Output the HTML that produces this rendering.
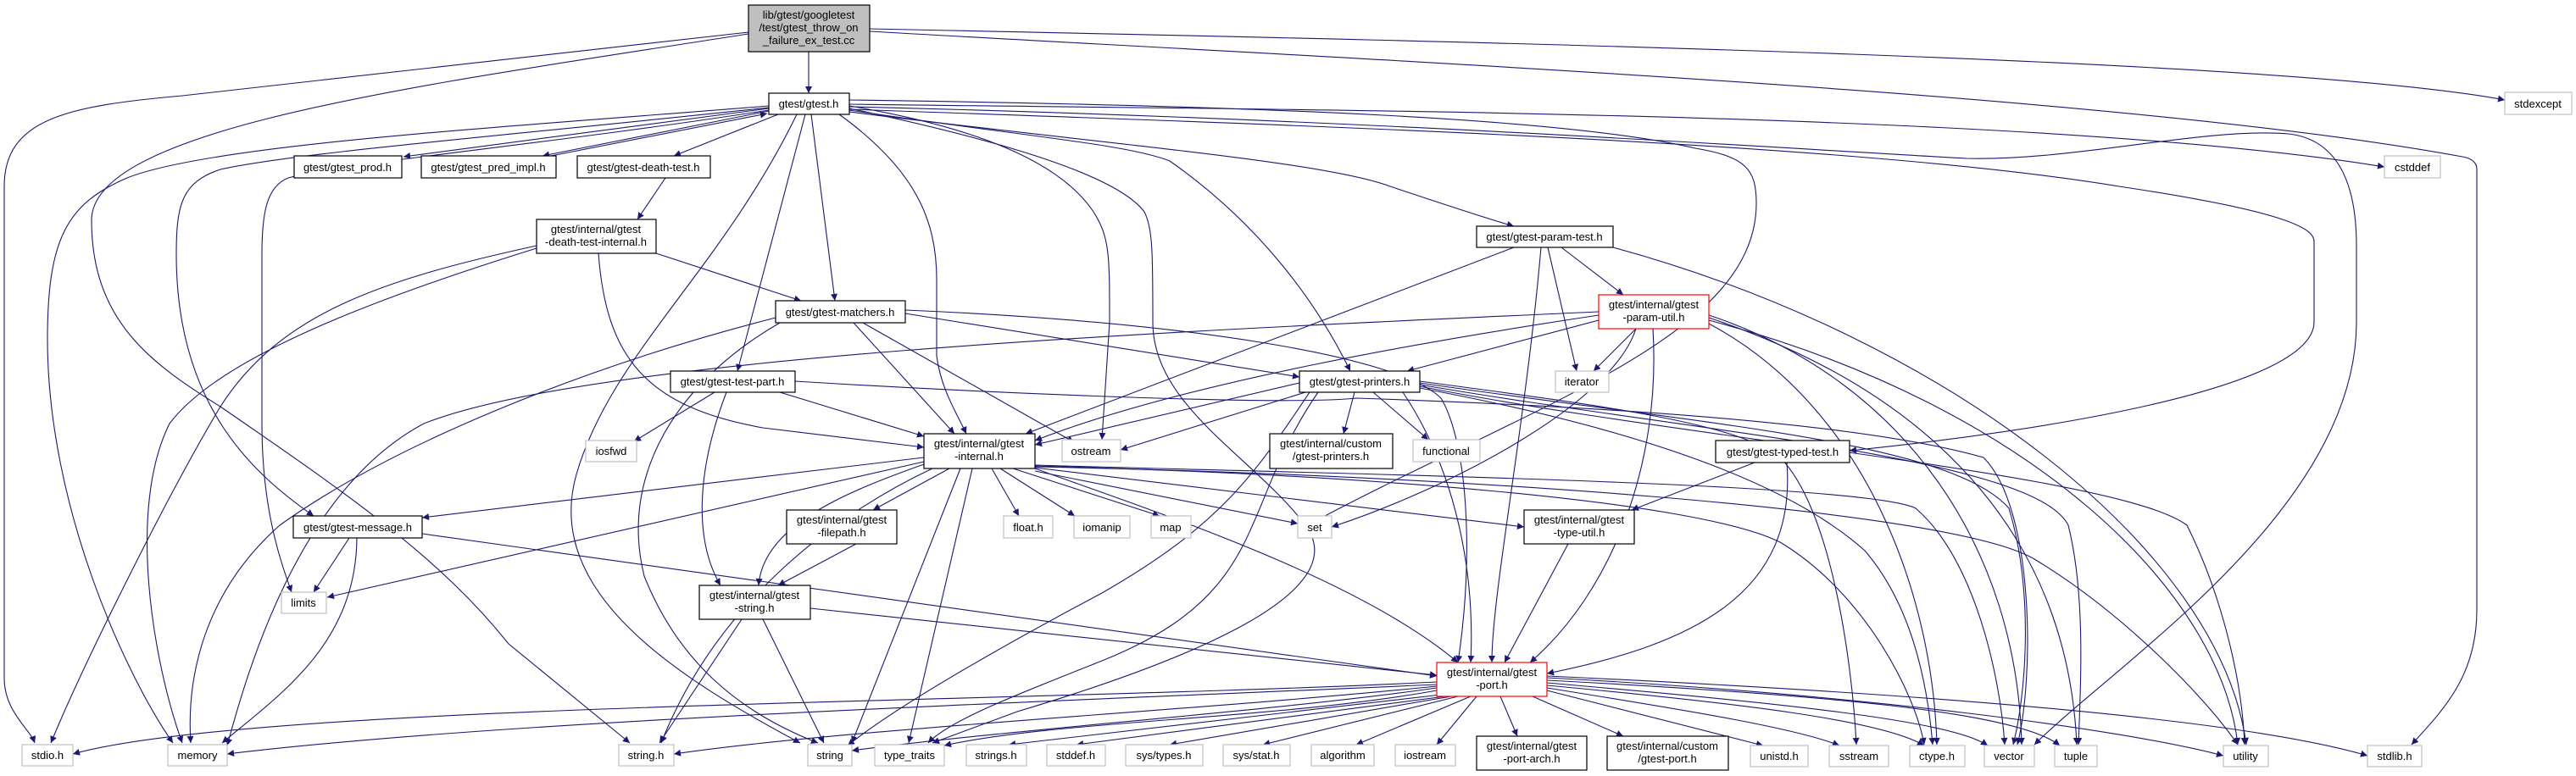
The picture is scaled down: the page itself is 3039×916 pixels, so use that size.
<!DOCTYPE html>
<html><head><meta charset="utf-8"><style>
html,body{margin:0;padding:0;background:#fff;}
svg{display:block;}
text{font-family:"Liberation Sans",Arial,sans-serif;font-size:13px;fill:#000;text-anchor:middle;}
.e{fill:none;stroke:#191970;stroke-width:1.1;marker-end:url(#a);}
.n{fill:#fff;stroke:#000;stroke-width:1.2;}
.g{fill:#fff;stroke:#c0c0c0;stroke-width:1.2;}
.r{fill:#fff;stroke:#ff0000;stroke-width:1.2;}
</style></head><body>
<svg width="3039" height="916" viewBox="0 0 3039 916" xmlns="http://www.w3.org/2000/svg">
<defs><marker id="a" viewBox="0 0 10 10" refX="10" refY="5" markerWidth="11" markerHeight="8" markerUnits="userSpaceOnUse" orient="auto"><path d="M0,0L10,5L0,10z" fill="#191970"/></marker></defs>
<g>
<!-- root edges -->
<path class="e" d="M954,61 L954,110"/>
<path class="e" d="M883,38 C600,70 320,100 215,113 C80,125 5,140 5,220 L5,800 C5,840 35,860 41,877"/>
<path class="e" d="M883,40 C500,100 108,150 108,260 C108,380 180,430 260,480 C420,590 520,660 600,760 L743,877"/>
<path class="e" d="M1026,34 C1800,50 2700,70 2955,118"/>
<path class="e" d="M1026,37 C1600,70 2500,110 2905,185 Q2922,188 2922,200 L2922,720 C2922,800 2880,840 2845,879"/>
<!-- gtest.h edges -->
<path class="e" d="M907,128 L476,185"/>
<path class="e" d="M907,131 L640,184"/>
<path class="e" d="M650,184 L905,134"/>
<path class="e" d="M918,135 L795,184"/>
<path class="e" d="M957,135 L985,355"/>
<path class="e" d="M950,135 L870,438"/>
<path class="e" d="M907,125 C600,150 250,170 150,210 C80,240 56,280 56,400 C56,600 150,800 204,877"/>
<path class="e" d="M907,127 C600,160 350,180 260,200 C215,215 208,240 208,300 C208,480 300,560 370,609"/>
<path class="e" d="M907,130 C650,170 420,190 340,210 C315,220 309,250 309,300 L309,500 C309,600 330,660 344,699"/>
<path class="e" d="M940,135 C850,320 720,420 680,560 C640,700 800,800 944,877"/>
<path class="e" d="M990,135 C1080,200 1105,260 1105,330 L1105,420 C1110,460 1130,490 1140,512"/>
<path class="e" d="M1002,125 C1150,150 1250,190 1290,250 C1309,280 1309,300 1309,380 L1300,519"/>
<path class="e" d="M1002,128 C1200,170 1320,210 1350,250 C1360,270 1360,300 1360,380 C1360,480 1480,540 1540,620 C1600,700 1400,780 1200,840 L1100,877"/>
<path class="e" d="M1002,130 C1200,160 1330,170 1380,190 C1480,260 1550,350 1593,438"/>
<path class="e" d="M1002,132 C1300,170 1560,190 1640,220 C1700,240 1760,260 1786,267"/>
<path class="e" d="M1002,123 C1500,130 2400,130 2813,197"/>
<path class="e" d="M1002,126 C1600,140 2100,175 2320,187 C2450,190 2600,150 2700,158 C2760,165 2780,220 2780,290 L2780,380 C2780,600 2500,780 2400,879"/>
<path class="e" d="M1002,129 C1600,150 2200,170 2500,220 C2700,250 2730,270 2730,285 L2730,380 C2730,460 2400,510 2182,532"/>
<path class="e" d="M1002,118 C1500,125 1850,140 2000,175 C2060,185 2072,200 2072,240 C2072,400 1800,480 1533,625"/>
<!-- death-test -->
<path class="e" d="M785,210 L752,259"/>
<path class="e" d="M774,299 L945,355"/>
<path class="e" d="M706,299 C715,420 760,480 900,505 L1090,528"/>
<path class="e" d="M633,290 C450,330 330,370 260,480 C200,580 100,780 60,877"/>
<path class="e" d="M633,293 C450,350 260,420 200,500 C150,600 180,780 215,877"/>
<!-- matchers -->
<path class="e" d="M1007,381 L1126,512"/>
<path class="e" d="M1018,381 L1267,522"/>
<path class="e" d="M1068,370 L1533,445"/>
<path class="e" d="M1068,366 C1400,380 1650,420 1700,470 C1730,520 1740,650 1720,782"/>
<path class="e" d="M915,375 C700,430 470,520 330,620 C240,700 220,800 225,877"/>
<path class="e" d="M920,381 C800,450 730,560 760,680 C800,780 870,840 965,877"/>
<!-- test-part -->
<path class="e" d="M843,463 L748,521"/>
<path class="e" d="M920,463 L1090,515"/>
<path class="e" d="M857,463 C820,560 820,640 850,691"/>
<path class="e" d="M938,450 C1100,460 1500,480 1600,470 C1900,480 2200,500 2340,540 C2400,600 2400,800 2380,879"/>
<!-- message -->
<path class="e" d="M412,635 L370,699"/>
<path class="e" d="M421,635 C420,760 330,820 262,877"/>
<path class="e" d="M498,630 L1695,798"/>
<!-- gtest-internal -->
<path class="e" d="M1090,540 L498,611"/>
<path class="e" d="M1090,545 L386,705"/>
<path class="e" d="M1120,553 L1030,602"/>
<path class="e" d="M1170,553 L1202,609"/>
<path class="e" d="M1180,553 L1268,609"/>
<path class="e" d="M1195,553 L1368,609"/>
<path class="e" d="M1221,556 L1531,618"/>
<path class="e" d="M1221,552 L1798,622"/>
<path class="e" d="M1221,553 C1350,600 1600,680 1720,782"/>
<path class="e" d="M1090,548 C1000,580 900,620 895,691"/>
<path class="e" d="M1100,553 C1000,600 850,700 780,877"/>
<path class="e" d="M1133,553 L1005,877"/>
<path class="e" d="M1147,553 L1072,877"/>
<path class="e" d="M1221,549 C1600,560 2200,570 2260,600 C2330,660 2360,800 2365,879"/>
<path class="e" d="M1221,550 C1600,560 2000,590 2100,640 C2200,700 2260,820 2270,879"/>
<path class="e" d="M1221,551 C1700,560 2300,600 2400,660 C2500,720 2600,820 2640,879"/>
<!-- param-test -->
<path class="e" d="M1786,292 L1210,512"/>
<path class="e" d="M1826,292 L1860,438"/>
<path class="e" d="M1842,292 L1915,348"/>
<path class="e" d="M1818,292 C1800,500 1760,700 1760,782"/>
<path class="e" d="M1903,292 C2300,400 2620,650 2650,879"/>
<!-- param-util -->
<path class="e" d="M1886,378 L1660,438"/>
<path class="e" d="M1886,372 C1700,400 1400,450 1221,520"/>
<path class="e" d="M1930,388 L1880,438"/>
<path class="e" d="M1930,388 C1900,480 1700,580 1571,622"/>
<path class="e" d="M1950,388 C1960,550 1900,700 1805,782"/>
<path class="e" d="M1886,368 C1400,390 700,420 500,500 C350,580 290,800 268,880"/>
<path class="e" d="M2016,372 C2250,450 2380,650 2385,879"/>
<path class="e" d="M2016,375 C2300,470 2440,650 2450,879"/>
<path class="e" d="M2016,378 C2400,480 2620,700 2640,879"/>
<path class="e" d="M2016,382 C2200,480 2280,700 2285,879"/>
<!-- printers -->
<path class="e" d="M1533,452 L1221,525"/>
<path class="e" d="M1540,463 L1322,531"/>
<path class="e" d="M1598,463 L1585,512"/>
<path class="e" d="M1620,463 L1685,519"/>
<path class="e" d="M1655,463 C1720,560 1740,680 1735,782"/>
<path class="e" d="M1545,463 C1480,560 1440,620 1300,700 C1150,780 1050,840 1000,880"/>
<path class="e" d="M1555,463 C1460,600 1500,700 1300,780 C1200,820 1120,850 1095,877"/>
<path class="e" d="M1675,450 C1900,480 2050,500 2100,540 C2160,600 2185,780 2190,879"/>
<path class="e" d="M1675,452 C2000,500 2300,520 2370,600 C2400,700 2390,820 2375,879"/>
<path class="e" d="M1675,454 C2000,510 2400,540 2440,620 C2460,700 2455,800 2452,879"/>
<path class="e" d="M1675,456 C2000,520 2500,560 2580,620 C2620,700 2645,800 2648,879"/>
<path class="e" d="M1675,458 C1900,500 2100,560 2200,650 C2260,720 2275,820 2280,879"/>
<!-- typed-test / type-util / filepath / string -->
<path class="e" d="M2070,546 L1925,602"/>
<path class="e" d="M2108,546 C2120,700 2000,760 1825,795"/>
<path class="e" d="M1850,642 L1775,782"/>
<path class="e" d="M1010,642 L918,691"/>
<path class="e" d="M875,731 L778,877"/>
<path class="e" d="M900,731 L972,877"/>
<path class="e" d="M956,718 L1695,797"/>
<!-- port.h -->
<path class="e" d="M1695,805 C1200,830 300,830 86,890"/>
<path class="e" d="M1695,808 C1200,830 600,850 268,890"/>
<path class="e" d="M1695,810 C1400,840 1000,860 795,890"/>
<path class="e" d="M1695,812 C1500,840 1200,860 1005,886"/>
<path class="e" d="M1695,815 C1500,850 1250,850 1114,880"/>
<path class="e" d="M1700,820 L1190,879"/>
<path class="e" d="M1705,822 L1270,879"/>
<path class="e" d="M1712,822 L1380,879"/>
<path class="e" d="M1720,822 L1490,879"/>
<path class="e" d="M1735,822 L1600,879"/>
<path class="e" d="M1742,822 L1695,879"/>
<path class="e" d="M1770,822 L1790,869"/>
<path class="e" d="M1808,822 L1915,869"/>
<path class="e" d="M1825,815 L2080,880"/>
<path class="e" d="M1825,812 C2000,840 2120,860 2170,880"/>
<path class="e" d="M1825,809 C2050,830 2220,850 2270,880"/>
<path class="e" d="M1825,806 C2100,830 2300,850 2345,880"/>
<path class="e" d="M1825,803 C2150,820 2380,840 2430,880"/>
<path class="e" d="M1825,800 C2200,820 2500,860 2623,892"/>
<path class="e" d="M1825,798 C2300,820 2650,850 2793,892"/>
</g>
<g>
<rect x="883" y="6" width="143" height="55" fill="#bfbfbf" stroke="#000" stroke-width="1.2"/>
<text x="954" y="22">lib/gtest/googletest</text><text x="954" y="37">/test/gtest_throw_on</text><text x="954" y="52">_failure_ex_test.cc</text>

<rect class="n" x="907" y="110" width="95" height="25"/><text x="954" y="127">gtest/gtest.h</text>
<rect class="n" x="347" y="184" width="127" height="26"/><text x="410" y="202">gtest/gtest_prod.h</text>
<rect class="n" x="497" y="184" width="159" height="26"/><text x="576" y="202">gtest/gtest_pred_impl.h</text>
<rect class="n" x="681" y="184" width="157" height="26"/><text x="759" y="202">gtest/gtest-death-test.h</text>
<rect class="n" x="633" y="259" width="141" height="40"/><text x="703" y="275">gtest/internal/gtest</text><text x="703" y="290">-death-test-internal.h</text>
<rect class="n" x="915" y="355" width="153" height="26"/><text x="991" y="373">gtest/gtest-matchers.h</text>
<rect class="n" x="791" y="438" width="147" height="25"/><text x="864" y="455">gtest/gtest-test-part.h</text>
<rect class="n" x="346" y="609" width="152" height="26"/><text x="422" y="627">gtest/gtest-message.h</text>
<rect class="g" x="332" y="699" width="53" height="25"/><text x="358" y="716">limits</text>
<rect class="g" x="691" y="520" width="60" height="25"/><text x="721" y="537">iosfwd</text>
<rect class="n" x="825" y="691" width="131" height="40"/><text x="890" y="707">gtest/internal/gtest</text><text x="890" y="722">-string.h</text>
<rect class="n" x="928" y="602" width="130" height="40"/><text x="993" y="618">gtest/internal/gtest</text><text x="993" y="633">-filepath.h</text>
<rect class="n" x="1742" y="267" width="161" height="25"/><text x="1822" y="284">gtest/gtest-param-test.h</text>
<rect class="r" x="1886" y="348" width="130" height="40"/><text x="1951" y="364">gtest/internal/gtest</text><text x="1951" y="379">-param-util.h</text>
<rect class="n" x="1533" y="438" width="142" height="25"/><text x="1604" y="455">gtest/gtest-printers.h</text>
<rect class="g" x="1835" y="438" width="63" height="25"/><text x="1866" y="455">iterator</text>
<rect class="n" x="1090" y="512" width="131" height="41"/><text x="1155" y="528">gtest/internal/gtest</text><text x="1155" y="543">-internal.h</text>
<rect class="g" x="1253" y="519" width="69" height="26"/><text x="1287" y="537">ostream</text>
<rect class="n" x="1498" y="512" width="145" height="41"/><text x="1570" y="528">gtest/internal/custom</text><text x="1570" y="543">/gtest-printers.h</text>
<rect class="g" x="1667" y="519" width="79" height="26"/><text x="1706" y="537">functional</text>
<rect class="g" x="1184" y="609" width="58" height="26"/><text x="1213" y="627">float.h</text>
<rect class="g" x="1267" y="609" width="66" height="26"/><text x="1300" y="627">iomanip</text>
<rect class="g" x="1358" y="609" width="47" height="26"/><text x="1381" y="627">map</text>
<rect class="g" x="1531" y="609" width="40" height="26"/><text x="1551" y="627">set</text>
<rect class="n" x="1798" y="602" width="130" height="40"/><text x="1863" y="618">gtest/internal/gtest</text><text x="1863" y="633">-type-util.h</text>
<rect class="n" x="2024" y="520" width="158" height="26"/><text x="2103" y="538">gtest/gtest-typed-test.h</text>
<rect class="r" x="1695" y="782" width="130" height="40"/><text x="1760" y="798">gtest/internal/gtest</text><text x="1760" y="813">-port.h</text>
<rect class="g" x="2955" y="109" width="79" height="26"/><text x="2994" y="127">stdexcept</text>
<rect class="g" x="2813" y="184" width="66" height="26"/><text x="2846" y="202">cstddef</text>

<rect class="g" x="26" y="879" width="60" height="25"/><text x="56" y="896">stdio.h</text>
<rect class="g" x="198" y="879" width="70" height="25"/><text x="233" y="896">memory</text>
<rect class="g" x="730" y="879" width="65" height="25"/><text x="762" y="896">string.h</text>
<rect class="g" x="953" y="879" width="52" height="25"/><text x="979" y="896">string</text>
<rect class="g" x="1032" y="879" width="82" height="25"/><text x="1073" y="896">type_traits</text>
<rect class="g" x="1140" y="879" width="71" height="25"/><text x="1175" y="896">strings.h</text>
<rect class="g" x="1235" y="879" width="69" height="25"/><text x="1269" y="896">stddef.h</text>
<rect class="g" x="1328" y="879" width="91" height="25"/><text x="1373" y="896">sys/types.h</text>
<rect class="g" x="1443" y="879" width="79" height="25"/><text x="1482" y="896">sys/stat.h</text>
<rect class="g" x="1547" y="879" width="74" height="25"/><text x="1584" y="896">algorithm</text>
<rect class="g" x="1646" y="879" width="71" height="25"/><text x="1681" y="896">iostream</text>
<rect class="n" x="1742" y="869" width="130" height="40"/><text x="1807" y="885">gtest/internal/gtest</text><text x="1807" y="900">-port-arch.h</text>
<rect class="n" x="1896" y="869" width="143" height="40"/><text x="1967" y="885">gtest/internal/custom</text><text x="1967" y="900">/gtest-port.h</text>
<rect class="g" x="2065" y="880" width="68" height="25"/><text x="2099" y="897">unistd.h</text>
<rect class="g" x="2158" y="880" width="70" height="25"/><text x="2193" y="897">sstream</text>
<rect class="g" x="2253" y="880" width="65" height="25"/><text x="2285" y="897">ctype.h</text>
<rect class="g" x="2341" y="880" width="59" height="25"/><text x="2370" y="897">vector</text>
<rect class="g" x="2424" y="880" width="50" height="25"/><text x="2449" y="897">tuple</text>
<rect class="g" x="2623" y="880" width="53" height="25"/><text x="2649" y="897">utility</text>
<rect class="g" x="2793" y="880" width="64" height="25"/><text x="2825" y="897">stdlib.h</text>
</g>
</svg>
</body></html>
